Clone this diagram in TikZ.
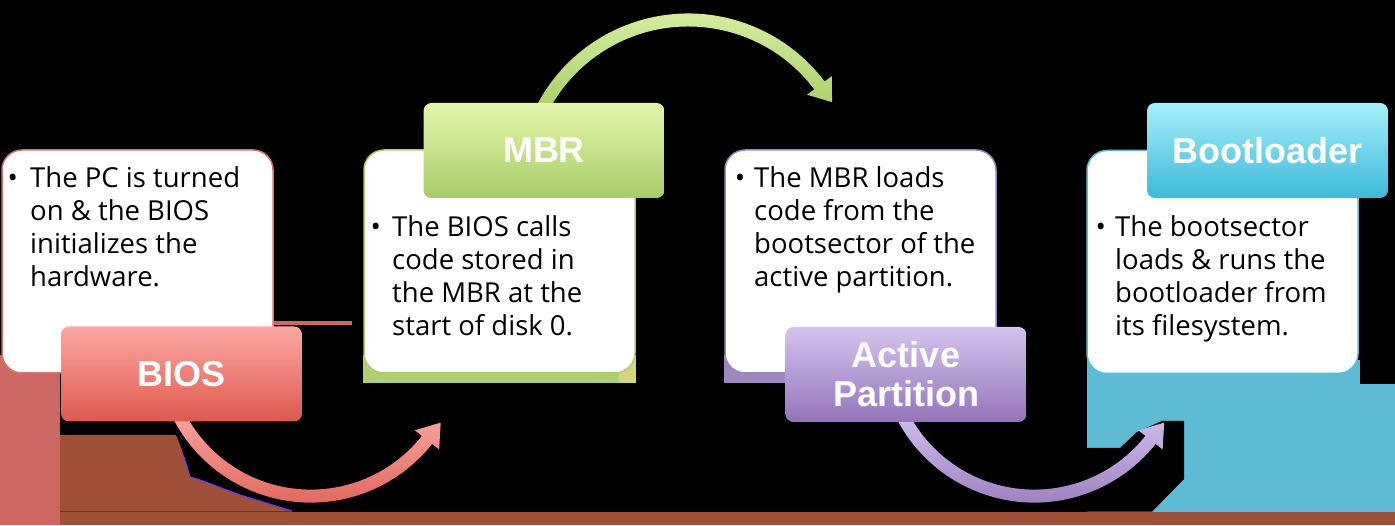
\documentclass[tikz,border=0pt]{standalone}
\usepackage{fontspec}
\setmainfont{Open Sans}
\newfontfamily\labelfont{Liberation Sans}
\usetikzlibrary{calc}
\definecolor{biosB}{HTML}{D9726A}
\definecolor{biosL1}{HTML}{FBA8A2}
\definecolor{biosL2}{HTML}{DE594E}
\definecolor{biosA1}{HTML}{F8A8A1}
\definecolor{biosA2}{HTML}{DF5A4F}
\definecolor{mbrB}{HTML}{AACD6E}
\definecolor{mbrL1}{HTML}{E4F7AB}
\definecolor{mbrL2}{HTML}{A7CB67}
\definecolor{mbrA1}{HTML}{DDF4A6}
\definecolor{mbrA2}{HTML}{A6CB63}
\definecolor{actB}{HTML}{9D82C4}
\definecolor{actL1}{HTML}{D4C4EF}
\definecolor{actL2}{HTML}{9474BA}
\definecolor{actA1}{HTML}{D2C2F0}
\definecolor{actA2}{HTML}{9473B8}
\definecolor{bootB}{HTML}{5DBDD6}
\definecolor{bootL1}{HTML}{A6EEFB}
\definecolor{bootL2}{HTML}{3CBAD8}
\definecolor{artPink}{HTML}{CC6761}
\definecolor{artBrown}{HTML}{9F5036}
\definecolor{artTeal}{HTML}{5DBBD3}
\definecolor{artGreen}{HTML}{B0CE72}
\definecolor{artYellow}{HTML}{D5D77B}
\definecolor{artPurple}{HTML}{9E87C0}
\definecolor{artViolet}{HTML}{6A3DF5}
\begin{document}
\begin{tikzpicture}[x=1pt,y=1pt,
  whitebox/.style={fill=white, line width=1.5pt, rounded corners=20pt, inner sep=0pt, minimum width=271pt, minimum height=223pt},
  labelbox/.style={rounded corners=8pt, inner sep=0pt, minimum width=241pt, minimum height=95pt,
    font=\labelfont\bfseries\fontsize{36}{39}\selectfont, text=white, align=center},
  body/.style={font=\fontsize{27.5}{33}\selectfont, inner sep=0pt, anchor=base west, text=black},
  bul/.style={font=\fontsize{27.5}{33}\selectfont, inner sep=0pt, anchor=base, text=black},
]
\useasboundingbox (0,0) rectangle (1395,525);
\fill[black] (0,0) rectangle (1395,525);
% ---- background artefacts ----
\fill[artBrown] (0,0) rectangle (1395,13.3);
\fill[artPink] (0,0) rectangle (60,170);
\fill[artBrown] (60,13.3) -- (60,90) -- (176,90) -- (182,75) -- (190,48) -- (200,45) -- (240,30) -- (292,13.3) -- cycle;
\draw[artViolet, line width=1.2pt] (184,68) -- (190,48) -- (200,45) -- (240,30) -- (292,14);
\fill[artTeal] (1087,13.3) rectangle (1360,165);
\fill[artTeal] (1360,13.3) rectangle (1395,141);
\fill[black] (1087,77) -- (1120,77) -- (1137,93) -- (1162,104) -- (1184,104) -- (1184,46) -- (1152,13.3) -- (1087,13.3) -- cycle;
\fill[artGreen] (363,142) rectangle (636,170);
\fill[artYellow] (619,142) rectangle (636,170);
\fill[artPurple] (724,142) rectangle (785,170);
\fill[artPink] (273,200) rectangle (352,204.3);
% ---- arrow centres ----
\coordinate (c1) at (310.8,177.2);
\coordinate (c2) at (688.2,340.7);
\coordinate (c3) at (1034.3,177.2);
% ---- arrows ----
\shade[top color=biosA1, bottom color=biosA2]
  ($(c1)+(205:154.8)$) arc[start angle=205, end angle=321.6, radius=154.8]
  -- ($(c1)+(321.6:163.8)$) -- ($(c1)+(321.6:148.3)+(51.6:22)$)
  -- ($(c1)+(321.6:132.8)$) -- ($(c1)+(321.6:141.8)$)
  arc[start angle=321.6, end angle=205, radius=141.8] -- cycle;
\shade[top color=mbrA1, bottom color=mbrA2]
  ($(c2)+(157:170.8)$) arc[start angle=157, end angle=37, radius=170.8]
  -- ($(c2)+(37:179.8)$) -- ($(c2)+(37:164.3)+(-53:21)$)
  -- ($(c2)+(37:148.8)$) -- ($(c2)+(37:157.8)$)
  arc[start angle=37, end angle=157, radius=157.8] -- cycle;
\shade[top color=actA1, bottom color=actA2]
  ($(c3)+(205:154.8)$) arc[start angle=205, end angle=321.6, radius=154.8]
  -- ($(c3)+(321.6:163.8)$) -- ($(c3)+(321.6:148.3)+(51.6:22)$)
  -- ($(c3)+(321.6:132.8)$) -- ($(c3)+(321.6:141.8)$)
  arc[start angle=321.6, end angle=205, radius=141.8] -- cycle;
% ---- white boxes ----
\node[whitebox, draw=biosB] (biosW) at (137.5,263.5) {};
\node[whitebox, draw=mbrB] (mbrW) at (499.5,263.5) {};
\node[whitebox, draw=actB] (actW) at (860.5,263.5) {};
\node[whitebox, draw=bootB] (bootW) at (1222.5,263) {};
% ---- label boxes ----
\node[labelbox, top color=biosL1, bottom color=biosL2] (biosL) at (181.5,151) {BIOS};
\node[labelbox, top color=mbrL1, bottom color=mbrL2] (mbrL) at (544,374.5) {MBR};
\node[labelbox, top color=actL1, bottom color=actL2] (actL) at (906,150.5) {Active\\Partition};
\node[labelbox, top color=bootL1, bottom color=bootL2] (bootL) at (1267.5,374.5) {Bootloader};
% ---- texts ----
\node[bul] (biosD) at (12.7,337) {•};
\node[body] (biosT) at (30,337) {\vtop{\hbox{The PC is turned}\hbox{on \& the BIOS}\hbox{initializes the}\hbox{hardware.}}};
\node[bul] (mbrD) at (375.8,288.3) {•};
\node[body] (mbrT) at (392,288.3) {\vtop{\hbox{The BIOS calls}\hbox{code stored in}\hbox{the MBR at the}\hbox{start of disk 0.}}};
\node[bul] (actD) at (740,337) {•};
\node[body] (actT) at (754,337) {\vtop{\hbox{The MBR loads}\hbox{code from the}\hbox{bootsector of the}\hbox{active partition.}}};
\node[bul] (bootD) at (1100.8,288.3) {•};
\node[body] (bootT) at (1115,288.3) {\vtop{\hbox{The bootsector}\hbox{loads \& runs the}\hbox{bootloader from}\hbox{its filesystem.}}};
\end{tikzpicture}
\end{document}
